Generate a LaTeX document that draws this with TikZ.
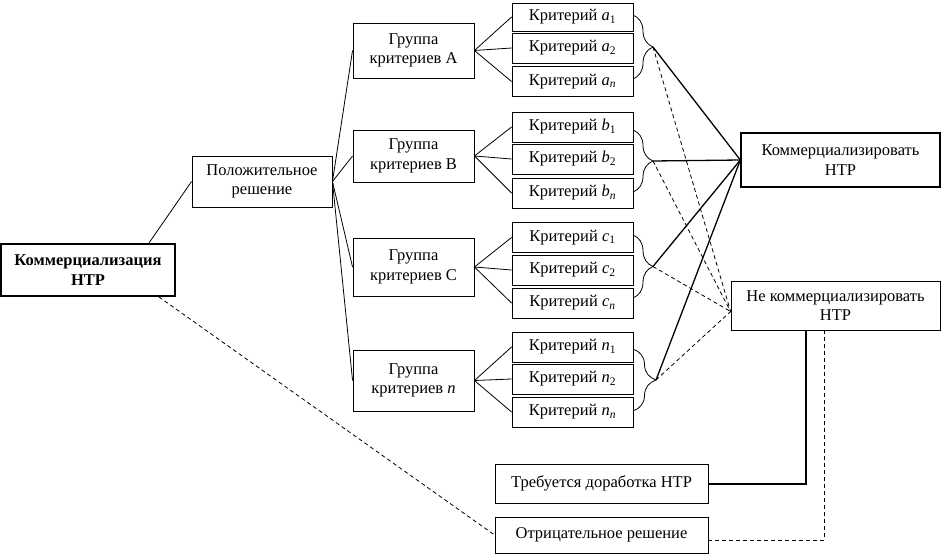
\documentclass[tikz,border=0pt]{standalone}
\usepackage{fontspec}
\setmainfont{Liberation Serif}
\usetikzlibrary{decorations.pathreplacing,calc}
\newcommand{\kr}[2]{Критерий \textit{#1}\textsubscript{#2}}
\begin{document}
\begin{tikzpicture}[x=1pt,y=-1pt,
  box/.style={draw,line width=0.9pt,align=center,inner sep=1pt,font=\fontsize{16.5}{19.5}\selectfont},
  crit/.style={box,minimum width=121pt,minimum height=30pt},
  grp/.style={box,minimum width=121pt},
  conn/.style={line width=0.8pt},
  thk/.style={line width=1.3pt},
  dsh/.style={line width=0.8pt,dash pattern=on 4pt off 3pt},
  brc/.style={decorate,decoration={brace,amplitude=#1},line width=0.8pt},
  brc/.default=20pt]
\useasboundingbox (0,0) rectangle (942,554);

% main nodes
\node[box,line width=1.8pt,minimum width=174pt,minimum height=52pt,font=\fontsize{16.5}{19.5}\selectfont\bfseries] (main) at (88,270) {Коммерциализация\\НТР};
\node[box,minimum width=140pt,minimum height=51pt] (pol) at (262,181.5) {Положительное\\решение};

% groups
\node[grp,minimum height=55pt] (gA) at (413.5,50.5) {Группа\\критериев А};
\node[grp,minimum height=52pt] (gB) at (413.5,156) {Группа\\критериев В};
\node[grp,minimum height=58pt] (gC) at (413.5,267) {Группа\\критериев С};
\node[grp,minimum height=61pt] (gN) at (413.5,380.5) {Группа\\критериев \textit{n}};

% criteria
\node[crit,minimum height=28pt] (a1) at (572.5,17) {\kr{a}{1}};
\node[crit] (a2) at (572.5,48) {\kr{a}{2}};
\node[crit] (an) at (572.5,81.5) {\kr{a}{\textit{n}}};
\node[crit] (b1) at (572.5,127) {\kr{b}{1}};
\node[crit] (b2) at (572.5,159) {\kr{b}{2}};
\node[crit] (bn) at (572.5,193) {\kr{b}{\textit{n}}};
\node[crit] (c1) at (572.5,237.5) {\kr{c}{1}};
\node[crit] (c2) at (572.5,270) {\kr{c}{2}};
\node[crit] (cn) at (572.5,303) {\kr{c}{\textit{n}}};
\node[crit] (n1) at (572.5,347) {\kr{n}{1}};
\node[crit] (n2) at (572.5,379) {\kr{n}{2}};
\node[crit] (nn) at (572.5,412) {\kr{n}{\textit{n}}};

% decisions
\node[box,line width=1.3pt,minimum width=199pt,minimum height=54pt] (komm) at (840.5,160) {Коммерциализировать\\НТР};
\node[box,minimum width=209pt,minimum height=49pt] (nekomm) at (835.5,305.5) {Не коммерциализировать\\НТР};
\node[box,minimum width=213pt,minimum height=39pt] (treb) at (601.5,483.5) {Требуется доработка НТР};
\node[box,minimum width=213pt,minimum height=36pt] (otr) at (601.5,535) {Отрицательное решение};

% main -> pol / otr
\draw[conn] ([xshift=-27pt]main.north east) -- (pol.west);
\draw[dsh] ([xshift=-17pt]main.south east) -- (otr.west);

% pol -> groups
\foreach \g in {gA,gB,gC,gN} \draw[conn] (pol.east) -- (\g.west);

% groups -> criteria
\foreach \g/\x in {gA/a,gB/b,gC/c,gN/n}
  \foreach \i in {1,2,n} \draw[conn] (\g.east) -- (\x\i.west);

% braces
\draw[brc] (633,15) -- (633,79);
\draw[brc] (633,130) -- (633,192);
\draw[brc] (633,235) -- (633,298);
\draw[brc=23pt] (633,349) -- (633,411);
\coordinate (ta) at (653,47);
\coordinate (tb) at (653,161);
\coordinate (tc) at (653,266.5);
\coordinate (tn) at (656,380);

% tips -> decisions
\foreach \t in {ta,tb,tc,tn} {
  \draw[thk] (\t) -- (komm.west);
  \draw[dsh] (\t) -- ([yshift=-6pt]nekomm.west);
}

% nekomm -> treb / otr
\draw[line width=2pt] ([xshift=-29.5pt]nekomm.south) |- (treb.east);
\draw[dsh] ([xshift=-11.5pt]nekomm.south) |- ([yshift=-5pt]otr.east);
\end{tikzpicture}
\end{document}
